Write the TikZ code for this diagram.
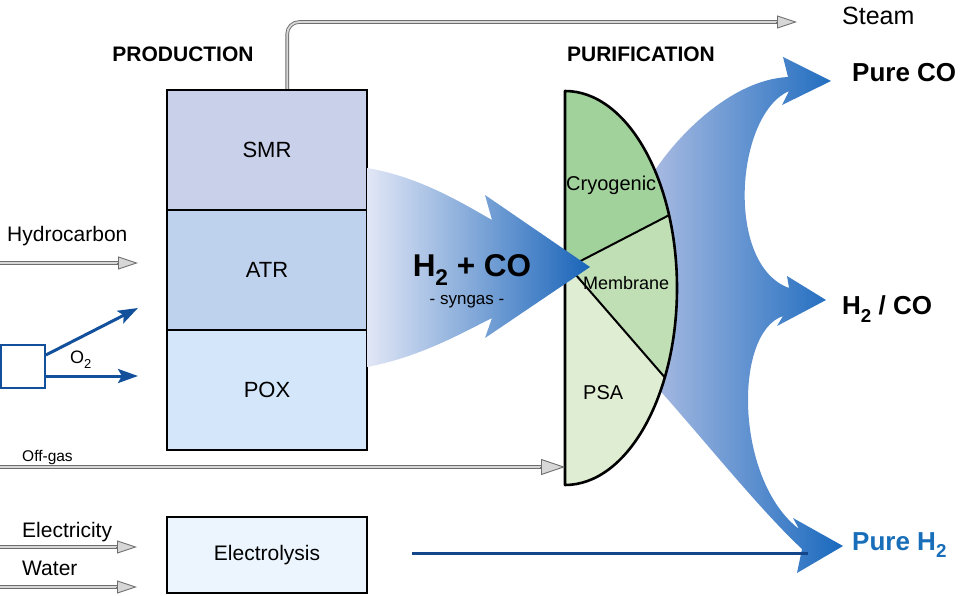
\documentclass[tikz,border=0pt]{standalone}
\usepackage{fontspec}
\setmainfont{Liberation Sans}
\usepackage{graphicx}
\usetikzlibrary{arrows.meta,calc}
\newcommand{\lowsub}[1]{\raisebox{-0.28em}{\scalebox{0.72}{#1}}}
\definecolor{smrc}{RGB}{200,208,234}
\definecolor{atrc}{RGB}{190,210,238}
\definecolor{poxc}{RGB}{212,231,250}
\definecolor{elc}{RGB}{236,245,253}
\definecolor{cryc}{RGB}{162,210,155}
\definecolor{memc}{RGB}{192,223,180}
\definecolor{psac}{RGB}{223,237,210}
\definecolor{arrblue}{RGB}{18,80,155}
\definecolor{lineblue}{RGB}{20,70,140}
\definecolor{h2blue}{RGB}{25,110,185}
\definecolor{pipegray}{RGB}{110,110,110}
\definecolor{pipelight}{RGB}{215,215,215}
\definecolor{fanL}{RGB}{185,196,230}
\definecolor{fanR}{RGB}{25,105,190}
\definecolor{synL}{RGB}{226,231,246}
\definecolor{synR}{RGB}{25,100,185}
\begin{document}
\begin{tikzpicture}[x=1pt,y=1pt,
  box/.style={draw=black,line width=2pt,inner sep=0pt,minimum width=200pt,minimum height=120pt,font=\fontsize{22}{26}\selectfont},
  pipe/.style={draw=pipegray,double=pipelight,double distance=1.8pt,line width=0.9pt},
  pipetip/.style={draw=pipegray,line width=0.9pt,-{Triangle[length=20pt,width=13pt,fill=pipelight,color=pipegray,line width=0.9pt]}},
  bigtip/.style={draw=pipegray,line width=0.9pt,-{Triangle[length=24pt,width=16pt,fill=pipelight,color=pipegray,line width=0.9pt]}},
  bluearr/.style={draw=arrblue,line width=3pt,-{Stealth[length=20pt,width=14pt,inset=4pt]}},
  txt/.style={inner sep=0pt,anchor=base west},
  head/.style={inner sep=0pt,anchor=base,font=\fontsize{21}{25}\selectfont\bfseries},
  outlab/.style={inner sep=0pt,anchor=base west,font=\fontsize{26}{30}\selectfont\bfseries},
]
\useasboundingbox (0,0) rectangle (966,595);
\fill[white] (0,0) rectangle (966,595);

% ---------- right fan (behind purification disk) ----------
\shade[left color=fanL,right color=fanR]
  (652,420) .. controls (675,457) and (730,515) .. (788,518)
  -- (783,538) -- (831,514) -- (782,490) -- (789,504)
  .. controls (735,480) and (725,330) .. (789,307)
  -- (787,319) -- (826,295) -- (777,269) -- (783,279)
  .. controls (733,262) and (735,115) .. (799,66)
  -- (793,77) -- (843,49) -- (797,22) -- (802,46)
  .. controls (760,85) and (700,160) .. (655,210)
  -- (630,210) -- (630,420) -- cycle;

% ---------- production blocks ----------
\node[box,fill=smrc] (smr) at (267,445) {SMR};
\node[box,fill=atrc] (atr) at (267,325) {ATR};
\node[box,fill=poxc] (pox) at (267,205) {POX};
\node[box,fill=elc,minimum height=76pt,font=\fontsize{21}{25}\selectfont] (elec) at (267,40) {Electrolysis};

\node[head] (prodlab) at (183,533) {PRODUCTION};
\node[head] (purlab) at (641,533) {PURIFICATION};

% ---------- purification disk ----------
\coordinate (hub) at (569,328);
\coordinate (pa) at (669.07,379.85);
\coordinate (pb) at (664.8,217.6);
\fill[cryc] (565,504) arc[start angle=90,end angle=21.7,x radius=112,y radius=197] -- (hub) -- (565,328) -- cycle;
\fill[memc] (pa) arc[start angle=21.7,end angle=-27,x radius=112,y radius=197] -- (hub) -- cycle;
\fill[psac] (pb) arc[start angle=-27,end angle=-90,x radius=112,y radius=197] -- (565,328) -- (hub) -- cycle;
\draw[line width=2pt] (hub) -- (pa);
\draw[line width=2pt] (hub) -- (pb);
\draw[line width=2.6pt,line join=round] (565,504) arc[start angle=90,end angle=-90,x radius=112,y radius=197] -- cycle;

\node[txt,font=\fontsize{20}{24}\selectfont] (cryo) at (566,404) {Cryogenic};
\node[txt,font=\fontsize{18}{22}\selectfont] (memb) at (583,305) {Membrane};
\node[txt,font=\fontsize{20}{24}\selectfont] (psa) at (583,196) {PSA};

% ---------- syngas arrow ----------
\shade[left color=synL,right color=synR]
  (367,427) .. controls (420,418) and (462,392) .. (492,375)
  -- (485,400) -- (590,328) -- (485,257) -- (492,277)
  .. controls (462,262) and (420,238) .. (367,228) -- cycle;
\node[inner sep=0pt,anchor=base,font=\fontsize{31.5}{35}\selectfont\bfseries] (syn) at (472,318) {H\lowsub{2} + CO};
\node[inner sep=0pt,anchor=base,font=\fontsize{17}{21}\selectfont] (synsub) at (467,290) {- syngas -};

% ---------- steam pipe ----------
\coordinate (steamtop) at ($(smr.north west)!0.6!(smr.north east)$);
\coordinate (steamend) at (797,573);
\draw[pipe,rounded corners=12pt] (steamtop) |- ($(steamend)+(-19,0)$);
\draw[pipetip] ($(steamend)+(-21,0)$) -- (steamend);
\node[txt,font=\fontsize{25}{29}\selectfont] (steam) at (842,570) {Steam};

% ---------- hydrocarbon ----------
\coordinate (hcS) at (0,332);
\coordinate (hcE) at (138,332);
\draw[pipe] (hcS) -- ($(hcE)+(-19,0)$);
\draw[pipetip] ($(hcE)+(-21,0)$) -- (hcE);
\node[txt,font=\fontsize{21}{25}\selectfont] (hclab) at (7,353) {Hydrocarbon};

% ---------- O2 ----------
\node[draw=arrblue,line width=1.8pt,fill=white,minimum width=44pt,minimum height=43pt,inner sep=0pt] (o2box) at (23,228.5) {};
\coordinate (o2a) at (138,287);
\coordinate (o2b) at (138,219);
\draw[bluearr] ($(o2box.east)+(0,11.5)$) -- (o2a);
\draw[bluearr] ($(o2box.east)+(0,-9.5)$) -- (o2b);
\node[txt,font=\fontsize{18}{22}\selectfont] (o2lab) at (70,232) {O\lowsub{2}};

% ---------- off-gas ----------
\coordinate (ogS) at (0,128);
\coordinate (ogE) at (565,128);
\draw[pipe] (ogS) -- ($(ogE)+(-23,0)$);
\draw[bigtip] ($(ogE)+(-25,0)$) -- (ogE);
\node[txt,font=\fontsize{15.5}{19}\selectfont] (oglab) at (22,134) {Off-gas};

% ---------- electricity / water ----------
\coordinate (elS) at (0,48);
\coordinate (elE) at (137,48);
\draw[pipe] (elS) -- ($(elE)+(-19,0)$);
\draw[pipetip] ($(elE)+(-21,0)$) -- (elE);
\node[txt,font=\fontsize{21}{25}\selectfont] (ellab) at (22,58) {Electricity};
\coordinate (waS) at (0,8);
\coordinate (waE) at (137,8);
\draw[pipe] (waS) -- ($(waE)+(-19,0)$);
\draw[pipetip] ($(waE)+(-21,0)$) -- (waE);
\node[txt,font=\fontsize{21}{25}\selectfont] (walab) at (22,20) {Water};

% ---------- electrolysis to pure H2 ----------
\coordinate (h2s) at (412,42);
\coordinate (h2e) at (808,42);
\draw[lineblue,line width=3pt] (h2s) -- (h2e);

% ---------- outputs ----------
\node[outlab] (pureco) at (852,513) {Pure CO};
\node[outlab] (h2co) at (842,280) {H\lowsub{2} / CO};
\node[outlab,text=h2blue] (pureh2) at (852,45) {Pure H\lowsub{2}};
\end{tikzpicture}
\end{document}
